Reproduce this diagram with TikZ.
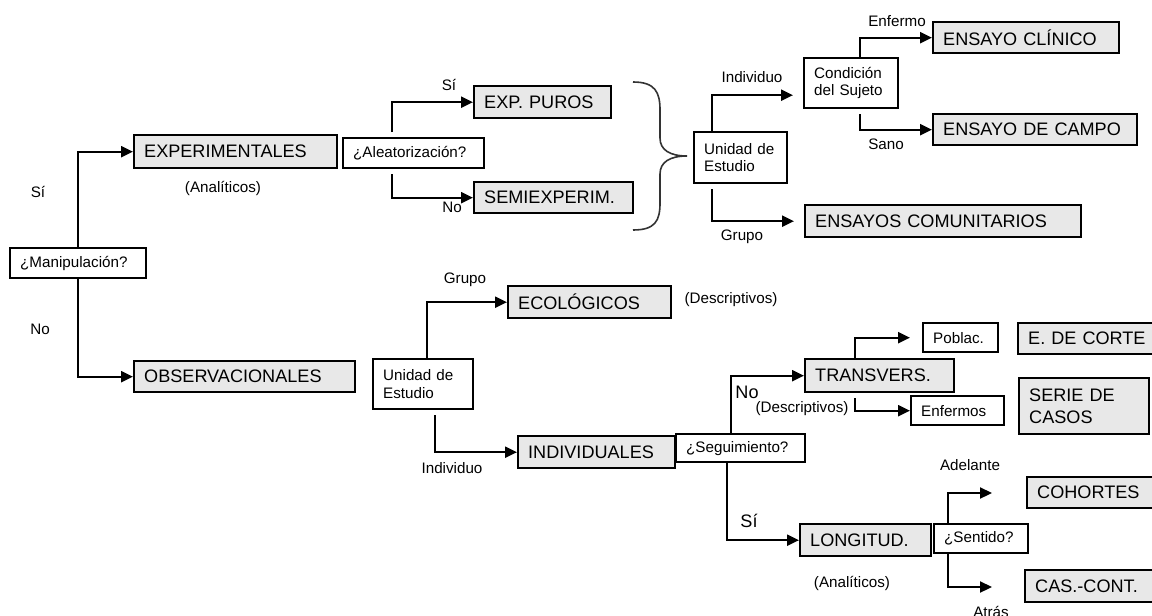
\documentclass[tikz,border=0pt]{standalone}
\usepackage{fontspec}
\setmainfont{Liberation Sans}
\usepackage{tikz}
\usetikzlibrary{arrows.meta}
\definecolor{gris}{RGB}{232,232,232}
\newcommand{\grande}{\fontsize{18.1}{22}\selectfont}
\newcommand{\chica}{\fontsize{15.2}{17.5}\selectfont}
\tikzset{>={Triangle[length=12pt,width=11pt]}}
\tikzset{
  grisbox/.style={draw, line width=2.4pt, fill=gris, font=\grande, align=left,
    anchor=north west, inner xsep=10pt, inner ysep=0pt},
  blancobox/.style={draw, line width=2.4pt, fill=white, font=\chica, align=left,
    anchor=north west, inner xsep=10pt, inner ysep=0pt},
  etiq/.style={font=\chica, inner sep=0pt},
  etiqg/.style={font=\grande, inner sep=0pt},
  flecha/.style={->, line width=2.2pt},
  hueco/.style={shorten <=5pt}
}

\begin{document}
\begin{tikzpicture}[x=1pt,y=-1pt]
    \useasboundingbox (0,0) rectangle (1152,616);
    % set up the nodes
    \node[blancobox, text width=116pt, minimum height=30pt] (manip) at (9,247) {¿Manipulación?};
    \node[grisbox, text width=183pt, minimum height=33pt] (exper) at (133,134) {EXPERIMENTALES};
    \node[grisbox, text width=201pt, minimum height=31pt] (obser) at (133,360) {OBSERVACIONALES};
    \node[blancobox, text width=121pt, minimum height=30pt] (alea) at (342,137) {¿Aleatorización?};
    \node[grisbox, text width=117pt, minimum height=32pt] (puros) at (473,85) {EXP. PUROS};
    \node[grisbox, text width=139pt, minimum height=31pt] (semi) at (473,181) {SEMIEXPERIM.};
    \node[blancobox, text width=73pt, minimum height=51pt] (uni1) at (693,131) {Unidad de\\Estudio};
    \node[blancobox, text width=74pt, minimum height=50pt] (cond) at (803,57) {Condición\\del Sujeto};
    \node[grisbox, text width=166pt, minimum height=31pt] (clin) at (932,21) {ENSAYO CLÍNICO};
    \node[grisbox, text width=184pt, minimum height=31pt] (campo) at (932,113) {ENSAYO DE CAMPO};
    \node[grisbox, text width=256pt, minimum height=32pt] (comun) at (804,204) {ENSAYOS COMUNITARIOS};
    \node[blancobox, text width=80pt, minimum height=50pt] (uni2) at (372,358) {Unidad de\\Estudio};
    \node[grisbox, text width=143pt, minimum height=32pt] (eco) at (507,285) {ECOLÓGICOS};
    \node[grisbox, text width=137pt, minimum height=32pt] (indiv) at (517,435) {INDIVIDUALES};
    \node[blancobox, text width=109pt, minimum height=28pt] (segui) at (675,433) {¿Seguimiento?};
    \node[grisbox, text width=129pt, minimum height=33pt] (trans) at (804,358) {TRANSVERS.};
    \node[grisbox, text width=111pt, minimum height=32pt] (longi) at (799,523) {LONGITUD.};
    \node[blancobox, text width=55pt, minimum height=29pt] (poblac) at (922,322) {Poblac.};
    \node[blancobox, text width=73pt, minimum height=29pt] (enfer) at (910,395) {Enfermos};
    \node[grisbox, text width=123pt, minimum height=31pt] (corte) at (1017,322) {E. DE CORTE};
    \node[grisbox, text width=110pt, minimum height=56pt] (serie) at (1018,377) {SERIE DE\\CASOS};
    \node[blancobox, text width=74pt, minimum height=29pt] (senti) at (933,523) {¿Sentido?};
    \node[grisbox, text width=114pt, minimum height=31pt] (cohor) at (1026,476) {COHORTES};
    \node[grisbox, text width=116pt, minimum height=32pt] (cascon) at (1024,569) {CAS.-CONT.};
    \coordinate (adel) at (992,493);
    \coordinate (atras) at (992,587);
    % draw arrows and text between them
    \draw[flecha] (manip.north) |- (exper.west);
    \draw[flecha] (manip.south) |- (obser.west);
    \draw[flecha, hueco] ([xshift=-21.5pt]alea.north) |- (puros.west);
    \draw[flecha, hueco] ([xshift=-21.5pt]alea.south) |- (semi.west);
    \draw[flecha, shorten >=10pt] ([xshift=-28.5pt]uni1.north) |- ([yshift=-12pt]cond.west);
    \draw[flecha, hueco, shorten >=10pt] ([xshift=-28.5pt]uni1.south) |- (comun.west);
    \draw[flecha] ([xshift=9pt]cond.north) |- (clin.west);
    \draw[flecha, hueco] ([xshift=9pt]cond.south) |- (campo.west);
    \draw[flecha] ([xshift=4pt]uni2.north) |- (eco.west);
    \draw[flecha, hueco] ([xshift=12pt]uni2.south) |- (indiv.west);
    \draw[flecha] ([xshift=-9.5pt]segui.north) |- (trans.west);
    \draw[flecha] ([xshift=-13.5pt]segui.south) |- (longi.west);
    \draw[flecha, shorten >=12pt] ([xshift=-24.5pt]trans.north) |- (poblac.west);
    \draw[flecha, hueco] ([xshift=-24.5pt]trans.south) |- (enfer.west);
    \draw[flecha] ([xshift=-33pt]senti.north) |- (adel);
    \draw[flecha] ([xshift=-33pt]senti.south) |- (atras);
    % brace
    \draw[line width=1.6pt, black!80] (633,82) .. controls (655,82) and (660,92) .. (660,110)
      -- (660,138) .. controls (660,150) and (670,156) .. (687,156)
      .. controls (670,156) and (660,162) .. (660,174)
      -- (660,203) .. controls (660,221) and (655,230) .. (633,230);
    % labels
    \node[etiq] (lsi1) at (38,192) {Sí};
    \node[etiq] (lno1) at (40,329) {No};
    \node[etiq] (lana1) at (223,188) {(Analíticos)};
    \node[etiq] (lsi2) at (449,85) {Sí};
    \node[etiq] (lno2) at (452,207) {No};
    \node[etiq] (lind1) at (752,77) {Individuo};
    \node[etiq] (lgru1) at (742,237) {Grupo};
    \node[etiq] (lenf) at (897,21) {Enfermo};
    \node[etiq] (lsano) at (886,144) {Sano};
    \node[etiq] (lgru2) at (465,280) {Grupo};
    \node[etiq] (ldes1) at (731,300) {(Descriptivos)};
    \node[etiq] (lind2) at (452,468) {Individuo};
    \node[etiqg] (lno3) at (747,392) {No};
    \node[etiq] (ldes2) at (802,409) {(Descriptivos)};
    \node[etiqg] (lsi3) at (749,521) {Sí};
    \node[etiq] (lana2) at (852,583) {(Analíticos)};
    \node[etiq] (ladel) at (970,465) {Adelante};
    \node[etiq] (latras) at (991,612) {Atrás};
\end{tikzpicture}
\end{document}
